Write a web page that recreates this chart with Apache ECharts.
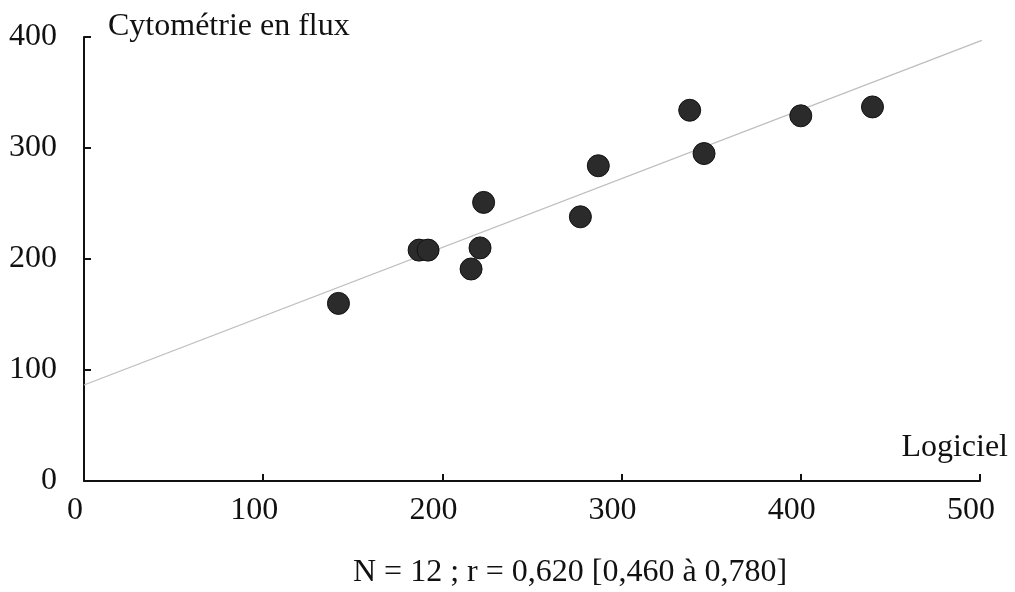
<!DOCTYPE html>
<html>
<head>
<meta charset="utf-8">
<script src="https://cdn.jsdelivr.net/npm/echarts@6/dist/echarts.min.js"></script>
<style>
html,body{margin:0;padding:0;background:#fff;}
#chart{width:1015px;height:592px;}
</style>
</head>
<body>
<div id="chart"></div>
<script>
// Data
var logiciel = [142, 187, 192, 223, 221, 216, 277, 287, 338, 346, 400, 440];
var cytometrie = [160, 208, 208, 251, 210, 191, 238, 284, 334, 295, 329, 337];
var fitX = [0, 501];
var fitY = [86.5, 397];
var xTicks = [0, 100, 200, 300, 400, 500];
var yTicks = [0, 100, 200, 300, 400];
var xName = 'Logiciel';
var yName = 'Cytométrie en flux';
var footnote = 'N = 12 ; r = 0,620 [0,460 à 0,780]';

var FONT = "'Liberation Serif', 'Times New Roman', serif";
var FS = 32;
var chart = echarts.init(document.getElementById('chart'), null, {renderer: 'canvas'});

var points = logiciel.map(function (x, i) { return [x, cytometrie[i]]; });
var fit = fitX.map(function (x, i) { return [x, fitY[i]]; });

chart.setOption({
  animation: false,
  backgroundColor: '#fff',
  grid: {left: 84, right: 35, top: 37, bottom: 111, containLabel: false},
  xAxis: {
    type: 'value',
    min: xTicks[0], max: xTicks[xTicks.length - 1], interval: 100,
    name: xName,
    nameLocation: 'end',
    nameGap: 28,
    nameTextStyle: {fontFamily: FONT, fontSize: FS, color: '#111', align: 'right', verticalAlign: 'bottom', lineHeight: 32, padding: [0, 0, 17, 0]},
    axisLine: {show: true, lineStyle: {color: '#111', width: 2}},
    axisTick: {show: true, inside: true, length: 7, lineStyle: {color: '#111', width: 2}},
    axisLabel: {fontFamily: FONT, fontSize: FS, color: '#111', margin: 14, padding: [0, 18, 0, 0]},
    splitLine: {show: false}
  },
  yAxis: {
    type: 'value',
    min: yTicks[0], max: yTicks[yTicks.length - 1], interval: 100,
    name: yName,
    nameLocation: 'end',
    nameGap: 10,
    nameTextStyle: {fontFamily: FONT, fontSize: FS, color: '#111', align: 'left', verticalAlign: 'middle', padding: [0, 0, 0, 24]},
    axisLine: {show: true, lineStyle: {color: '#111', width: 2}},
    axisTick: {show: true, inside: true, length: 7, lineStyle: {color: '#111', width: 2}},
    axisLabel: {fontFamily: FONT, fontSize: FS, color: '#111', margin: 27},
    splitLine: {show: false}
  },
  graphic: [{
    type: 'text',
    left: 353,
    top: 557,
    style: {text: footnote, font: FS + 'px ' + FONT, fill: '#111'}
  }],
  series: [
    {
      type: 'line',
      data: fit,
      clip: false,
      symbol: 'none',
      silent: true,
      lineStyle: {color: '#bdbdbd', width: 1.2},
      z: 1
    },
    {
      type: 'scatter',
      data: points,
      symbol: 'circle',
      symbolSize: 22,
      itemStyle: {color: '#2b2b2b', borderColor: '#111', borderWidth: 1, opacity: 1},
      z: 2
    }
  ]
});
</script>
</body>
</html>
